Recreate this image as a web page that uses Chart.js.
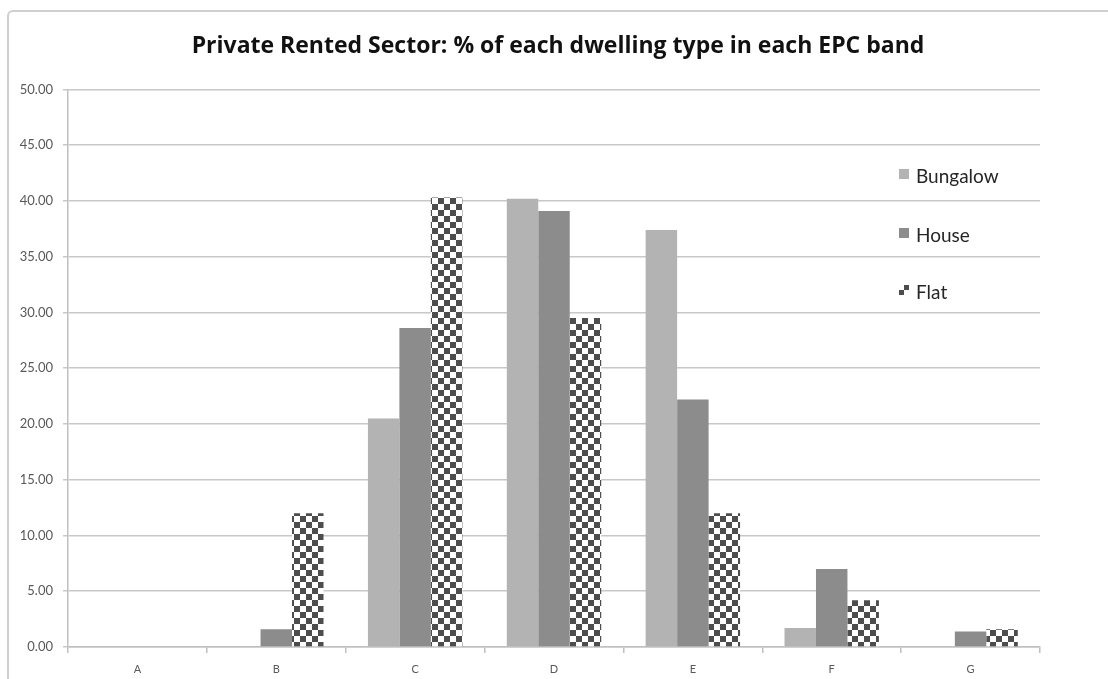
<!DOCTYPE html>
<html lang="en">
<head>
    <meta charset="UTF-8">
    <title>Private Rented Sector</title>
    <script src="https://cdn.jsdelivr.net/npm/chart.js"></script>
    <style>
        body {
            margin: 0;
            background: #ffffff;
            overflow: hidden;
        }
        .frame {
            position: absolute;
            left: 7px;
            top: 10px;
            width: 1200px;
            height: 800px;
            border: 2px solid #d0d0d0;
            border-radius: 6px;
        }
        .chart-box {
            position: relative;
            width: 1108px;
            height: 679px;
        }
    </style>
</head>
<body>
<div class="frame"></div>
<div class="chart-box">
    <canvas id="epcChart"></canvas>
</div>

<script>
    const bands = ['A', 'B', 'C', 'D', 'E', 'F', 'G'];
    const bungalow = [0, 0, 20.5, 40.2, 37.4, 1.7, 0];
    const house = [0, 1.6, 28.6, 39.1, 22.2, 7.0, 1.4];
    const flat = [0, 12.0, 40.3, 29.5, 12.0, 4.2, 1.6];
    const yTicks = [0, 5, 10, 15, 20, 25, 30, 35, 40, 45, 50];

    // Schachbrettmuster für "Flat"
    function checker(cell) {
        const c = document.createElement('canvas');
        c.width = cell * 2;
        c.height = cell * 2;
        const g = c.getContext('2d');
        g.fillStyle = '#ffffff';
        g.fillRect(0, 0, c.width, c.height);
        g.fillStyle = '#4d4d4d';
        g.fillRect(0, 0, cell, cell);
        g.fillRect(cell, cell, cell, cell);
        return g.createPattern(c, 'repeat');
    }
    const flatPattern = checker(6);

    // Legende rechts im Diagrammbereich, wie im Original
    const sideLegend = {
        id: 'sideLegend',
        afterDraw(chart) {
            const ctx = chart.ctx;
            const items = chart.data.datasets;
            const ys = [177, 236, 293];
            ctx.save();
            ctx.font = '19px Lato, sans-serif';
            ctx.textBaseline = 'middle';
            items.forEach((ds, i) => {
                const y = ys[i];
                if (ds.label === 'Flat') {
                    ctx.fillStyle = '#4d4d4d';
                    ctx.fillRect(899, y - 3, 5, 5);
                    ctx.fillRect(904, y - 8, 5, 5);
                } else {
                    ctx.fillStyle = ds.backgroundColor;
                    ctx.fillRect(899, y - 8, 10, 10);
                }
                ctx.fillStyle = '#262626';
                ctx.fillText(ds.label, 916, y);
            });
            ctx.restore();
        }
    };

    const ctx = document.getElementById('epcChart').getContext('2d');
    new Chart(ctx, {
        type: 'bar',
        data: {
            labels: bands,
            datasets: [
                { label: 'Bungalow', data: bungalow, backgroundColor: '#b3b3b3' },
                { label: 'House', data: house, backgroundColor: '#8c8c8c' },
                { label: 'Flat', data: flat, backgroundColor: flatPattern }
            ]
        },
        options: {
            responsive: true,
            maintainAspectRatio: false,
            animation: false,
            datasets: {
                bar: {
                    categoryPercentage: 0.68,
                    barPercentage: 1.0,
                    borderWidth: 0
                }
            },
            layout: {
                padding: { left: 8, right: 0, top: 22, bottom: 0 }
            },
            plugins: {
                legend: { display: false },
                tooltip: { enabled: false },
                title: {
                    display: true,
                    text: 'Private Rented Sector: % of each dwelling type in each EPC band',
                    color: '#111111',
                    font: { family: '"Open Sans", sans-serif', size: 23, weight: 'bold', lineHeight: 1.15 },
                    padding: { top: 11, bottom: 30 }
                }
            },
            scales: {
                x: {
                    grid: {
                        drawOnChartArea: false,
                        drawTicks: true,
                        tickLength: 6,
                        color: '#c0c0c0',
                        lineWidth: 1.5
                    },
                    border: { color: '#c0c0c0', width: 1.5 },
                    ticks: {
                        color: '#595959',
                        padding: 10,
                        font: { family: 'Lato, sans-serif', size: 11 }
                    },
                    afterFit(scale) { scale.height = 32; }
                },
                y: {
                    min: 0,
                    max: 50,
                    afterBuildTicks(scale) {
                        scale.ticks = yTicks.map(v => ({ value: v }));
                    },
                    grid: {
                        color: '#c8c8c8',
                        lineWidth: 1.5,
                        tickLength: 5
                    },
                    border: { color: '#c0c0c0', width: 1.5 },
                    ticks: {
                        color: '#595959',
                        padding: 10,
                        font: { family: 'Lato, sans-serif', size: 13 },
                        callback: v => Number(v).toFixed(2)
                    },
                    afterFit(scale) { scale.width = 60; }
                },
                // leere rechte Achse, damit der Plotbereich bei 1040 endet
                yRight: {
                    position: 'right',
                    min: 0,
                    max: 50,
                    grid: { display: false },
                    border: { display: false },
                    ticks: { display: false },
                    afterFit(scale) { scale.width = 68; }
                }
            }
        },
        plugins: [sideLegend]
    });
</script>
</body>
</html>
